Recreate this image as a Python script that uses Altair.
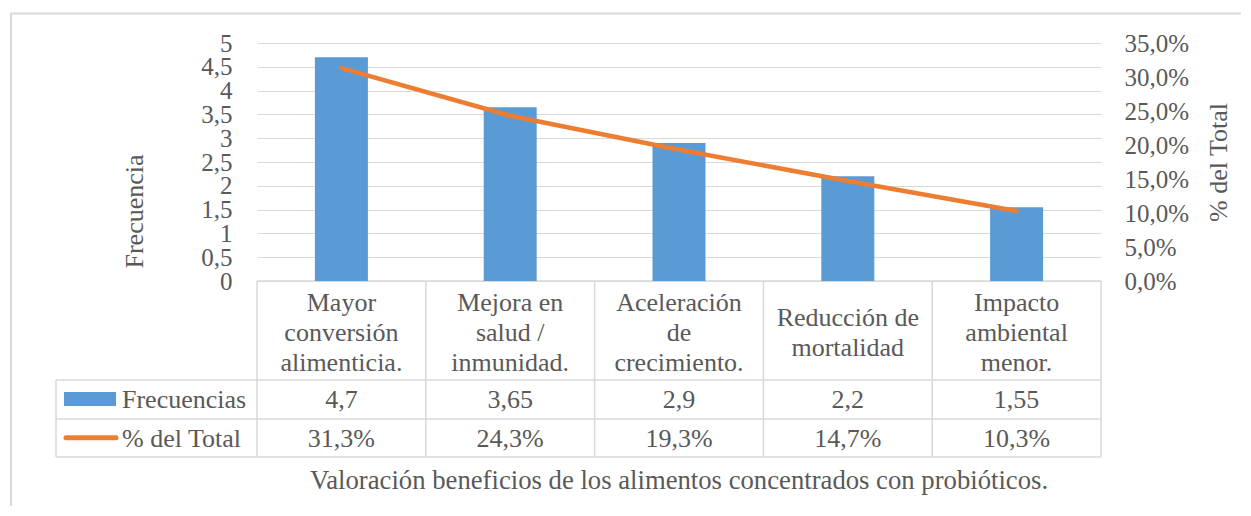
import altair as alt
import pandas as pd

categorias = [
    "Mayor\nconversión\nalimenticia.",
    "Mejora en\nsalud /\ninmunidad.",
    "Aceleración\nde\ncrecimiento.",
    "Reducción de\nmortalidad",
    "Impacto\nambiental\nmenor.",
]
frecuencias = [4.7, 3.65, 2.9, 2.2, 1.55]
porcentajes = [0.313, 0.243, 0.193, 0.147, 0.103]
ticks_frec = [0, 0.5, 1, 1.5, 2, 2.5, 3, 3.5, 4, 4.5, 5]
ticks_pct = [0, 0.05, 0.10, 0.15, 0.20, 0.25, 0.30, 0.35]
serie_frec = "Frecuencias"
serie_pct = "% del Total"
titulo = "Valoración beneficios de los alimentos concentrados con probióticos."

FONT = "Liberation Serif"
TXT = "#595959"
GRID = "#d9d9d9"
BLUE = "#5b9bd5"
ORANGE = "#ed7d31"
FS = 26
FS_TICK = 25
W, H = 844, 238

df = pd.DataFrame({"cat": categorias, "frec": frecuencias, "pct": porcentajes})
one = pd.DataFrame({"k": [0]})

xscale = alt.Scale(domain=categorias, paddingInner=0, paddingOuter=0)
X = alt.X("cat:N", scale=xscale, axis=None, sort=categorias)

base = alt.Chart(df)

bars = base.mark_bar(size=53, color=BLUE).encode(
    x=X,
    y=alt.Y(
        "frec:Q",
        scale=alt.Scale(domain=[0, 5], nice=False),
        axis=alt.Axis(
            values=ticks_frec,
            labelExpr="replace(format(datum.value, '~g'), '.', ',')",
            grid=True, gridColor=GRID, gridWidth=1,
            domain=False, ticks=False, labelPadding=25,
            labelFont=FONT, labelFontSize=FS_TICK, labelColor=TXT,
            labelOverlap=False, labelFlush=False,
            title="Frecuencia", titleFont=FONT, titleFontSize=26,
            titleFontWeight="normal", titleColor=TXT,
            titleAngle=270, titleX=-123, titleY=168, titleAlign="center",
            titleBaseline="middle",
        ),
    ),
)

line = base.mark_line(color=ORANGE, strokeWidth=4.5, strokeCap="round").encode(
    x=X,
    y=alt.Y(
        "pct:Q",
        scale=alt.Scale(domain=[0, 0.35], nice=False),
        axis=alt.Axis(
            orient="right",
            values=ticks_pct,
            labelExpr="replace(format(datum.value, '.1%'), '.', ',')",
            grid=False, domain=False, ticks=False, labelPadding=23,
            labelFont=FONT, labelFontSize=FS_TICK, labelColor=TXT,
            labelOverlap=False, labelFlush=False,
            title="% del Total", titleFont=FONT, titleFontSize=26,
            titleFontWeight="normal", titleColor=TXT,
            titleAngle=270, titleX=117, titleY=119, titleAlign="center",
            titleBaseline="middle",
        ),
    ),
)

# table header text (first-line position depends on number of lines)
txt_opts = dict(font=FONT, fontSize=FS, color=TXT, lineBreak="\n",
                lineHeight=30, baseline="middle", align="center")
header3 = base.transform_filter(
    "split(datum.cat, '\\n').length == 3"
).mark_text(**txt_opts).encode(x=X, y=alt.value(260), text="cat:N")
header2 = base.transform_filter(
    "split(datum.cat, '\\n').length == 2"
).mark_text(**txt_opts).encode(x=X, y=alt.value(275), text="cat:N")

row1 = base.transform_calculate(
    lab="replace(format(datum.frec, '~g'), '.', ',')"
).mark_text(font=FONT, fontSize=FS, color=TXT, baseline="middle", align="center").encode(
    x=X, y=alt.value(357), text="lab:N")
row2 = base.transform_calculate(
    lab="replace(format(datum.pct, '.1%'), '.', ',')"
).mark_text(font=FONT, fontSize=FS, color=TXT, baseline="middle", align="center").encode(
    x=X, y=alt.value(396), text="lab:N")

# table grid
vlines = base.mark_rule(color=GRID, strokeWidth=1.5).encode(
    x=alt.X("cat:N", scale=xscale, axis=None, sort=categorias, bandPosition=0),
    y=alt.value(238), y2=alt.value(414))
rule_opts = dict(color=GRID, strokeWidth=1.5)
oc = alt.Chart(one)
vright = oc.mark_rule(**rule_opts).encode(x=alt.value(W), y=alt.value(238), y2=alt.value(414))
vleft = oc.mark_rule(**rule_opts).encode(x=alt.value(-201), y=alt.value(337), y2=alt.value(414))
htop = oc.mark_rule(**rule_opts).encode(x=alt.value(0), x2=alt.value(W), y=alt.value(238))
h1 = oc.mark_rule(**rule_opts).encode(x=alt.value(-201), x2=alt.value(W), y=alt.value(337))
h2 = oc.mark_rule(**rule_opts).encode(x=alt.value(-201), x2=alt.value(W), y=alt.value(376))
h3 = oc.mark_rule(**rule_opts).encode(x=alt.value(-201), x2=alt.value(W), y=alt.value(414))

# legend keys inside table
key_bar = oc.mark_rect(color=BLUE).encode(
    x=alt.value(-193), x2=alt.value(-141), y=alt.value(349), y2=alt.value(363))
key_line = oc.mark_rule(color=ORANGE, strokeWidth=5, strokeCap="round").encode(
    x=alt.value(-191), x2=alt.value(-141), y=alt.value(394.7))
key_txt1 = oc.mark_text(font=FONT, fontSize=FS, color=TXT, align="left", baseline="middle").encode(
    x=alt.value(-135), y=alt.value(357), text=alt.value(serie_frec))
key_txt2 = oc.mark_text(font=FONT, fontSize=FS, color=TXT, align="left", baseline="middle").encode(
    x=alt.value(-135), y=alt.value(396), text=alt.value(serie_pct))

title_txt = oc.mark_text(font=FONT, fontSize=26.7, color=TXT, align="center", baseline="middle").encode(
    x=alt.value(W / 2), y=alt.value(438), text=alt.value(titulo))

# outer frame (top and left edges visible)
frame_top = oc.mark_rule(color=GRID, strokeWidth=2).encode(
    x=alt.value(-246), x2=alt.value(1100), y=alt.value(-29.5))
frame_left = oc.mark_rule(color=GRID, strokeWidth=2).encode(
    x=alt.value(-246), y=alt.value(-30), y2=alt.value(600))

chart = alt.layer(
    frame_top, frame_left,
    vlines, vright, vleft, htop, h1, h2, h3,
    bars, line,
    header3, header2, row1, row2,
    key_bar, key_line, key_txt1, key_txt2,
    title_txt,
).resolve_scale(y="independent").properties(
    width=W, height=H,
    autosize=alt.AutoSizeParams(type="none"),
    padding={"left": 249, "top": 35, "right": 140, "bottom": 225},
).configure_view(stroke=None)

chart.save("out.html", embed_options={"renderer": "svg", "actions": False})
